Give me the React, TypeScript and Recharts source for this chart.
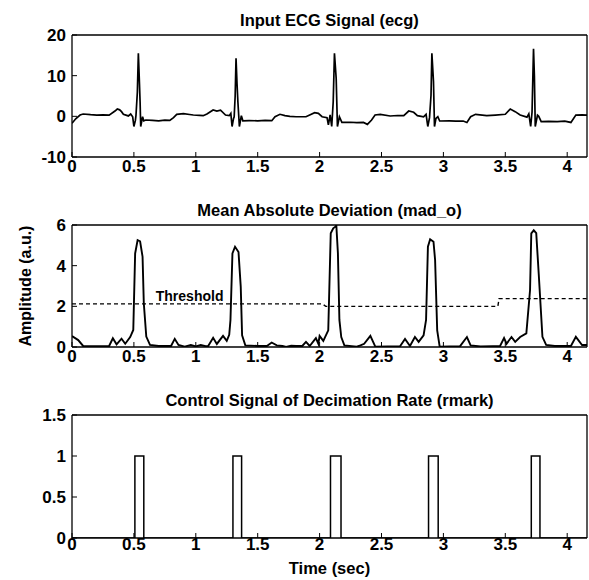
import React from 'react'
import { LineChart, Line, XAxis, YAxis, ReferenceDot } from 'recharts'

// time axis (sec)
const xMax = 4.16
const timeTicks = [0, 0.5, 1, 1.5, 2, 2.5, 3, 3.5, 4]

// Input ECG signal, [time, value]
const ecgPoints: [number, number][] = [
  [0.0, -1.7], [0.03, -0.6], [0.065, 0.33], [0.09, 0.57], [0.15, 0.4], [0.2, 0.3], [0.25, 0.35], [0.3, 0.3],
  [0.347, 1.3], [0.366, 1.8], [0.385, 1.6], [0.4, 1.15], [0.415, 0.5], [0.455, 0.1], [0.474, 0.57], [0.49, -0.1],
  [0.5, -2.5], [0.512, -1.0], [0.517, 0.3], [0.528, 6], [0.536, 15.5], [0.545, 8], [0.55, 3.6], [0.555, -2.5],
  [0.57, -0.1], [0.58, -1.1], [0.596, -0.9], [0.65, -1.0], [0.7, -1.1], [0.75, -0.95], [0.79, -1.0], [0.82, -0.3],
  [0.846, 0.5], [0.9, 0.67], [0.95, 0.45], [0.98, 0.33], [1.03, 0.25], [1.06, 0.16], [1.09, 0.57], [1.14, 1.56],
  [1.17, 1.3], [1.2, 1.5], [1.24, 0.33], [1.27, 0.16], [1.283, 0.74], [1.293, -2.5], [1.305, -0.5], [1.31, -0.1],
  [1.318, 5], [1.325, 14.3], [1.333, 8], [1.34, 3.6], [1.352, -2.5], [1.368, 0.16], [1.38, -1.1], [1.43, -1.05],
  [1.5, -1.1], [1.56, -1.0], [1.614, -1.07], [1.64, -0.1], [1.68, 0.5], [1.72, 0.16], [1.76, 0.0], [1.81, -0.1],
  [1.89, -0.1], [1.92, 0.33], [1.96, 0.9], [1.99, 0.74], [2.02, -0.1], [2.06, -0.33], [2.071, -2.1], [2.085, 0.33],
  [2.098, -2.5], [2.11, 3.6], [2.12, 15.5], [2.134, 9.3], [2.144, -2.5], [2.16, -0.1], [2.18, -1.5], [2.25, -1.45],
  [2.3, -1.55], [2.354, -1.5], [2.386, -1.97], [2.42, -0.9], [2.448, 0.33], [2.49, 0.5], [2.57, 0.08], [2.63, 0.2],
  [2.68, 0.16], [2.72, 1.3], [2.76, 1.0], [2.79, 0.16], [2.84, -0.1], [2.86, 0.5], [2.874, -2.5], [2.888, -0.33],
  [2.9, 5.2], [2.907, 15.5], [2.92, 8.5], [2.928, -2.5], [2.94, -0.5], [2.955, -0.1], [2.97, -1.15], [3.05, -1.1],
  [3.1, -1.2], [3.16, -1.15], [3.19, -1.5], [3.22, -0.1], [3.26, 0.5], [3.35, 0.16], [3.42, 0.3], [3.5, 0.5],
  [3.54, 1.8], [3.58, 1.15], [3.62, 0.33], [3.675, -0.2], [3.69, 0.6], [3.705, -2.5], [3.716, 1.0], [3.728, 16.6],
  [3.735, 10], [3.742, -2.5], [3.76, 0.3], [3.77, 0.0], [3.79, -1.3], [3.85, -1.25], [3.92, -1.3], [3.98, -1.2],
  [4.03, -1.5], [4.07, 0.3], [4.12, 0.35], [4.16, 0.3],
]

// mean absolute deviation, [time, value]
const madPoints: [number, number][] = [
  [0, 0.54], [0.05, 0.34], [0.09, 0.05], [0.2, 0.04], [0.3, 0.05], [0.33, 0.43], [0.36, 0.13], [0.4, 0.41],
  [0.43, 0.16], [0.47, 0.49], [0.495, 0.84], [0.51, 4.6], [0.53, 5.26], [0.55, 5.2], [0.57, 4.44], [0.58, 2.15],
  [0.6, 0.51], [0.63, 0.1], [0.7, 0.05], [0.8, 0.05], [0.83, 0.4], [0.86, 0.1], [0.91, 0.02], [0.96, 0.1],
  [1.0, 0.03], [1.04, 0.1], [1.08, 0.04], [1.1, 0.05], [1.14, 0.45], [1.17, 0.15], [1.22, 0.55], [1.25, 0.3],
  [1.27, 0.6], [1.28, 1.33], [1.296, 4.6], [1.317, 4.93], [1.345, 4.67], [1.363, 2.97], [1.374, 0.57], [1.4, 0.08],
  [1.5, 0.05], [1.574, 0.05], [1.613, 0.22], [1.654, 0.08], [1.7, 0.05], [1.73, 0.0], [1.77, 0.06], [1.81, 0.05],
  [1.86, 0.05], [1.89, 0.25], [1.92, 0.05], [1.97, 0.44], [1.99, 0.16], [2.0, 0.55], [2.03, 0.3], [2.07, 0.82],
  [2.09, 5.59], [2.11, 5.84], [2.13, 5.93], [2.135, 6.0], [2.148, 4.6], [2.16, 1.33], [2.175, 0.49], [2.2, 0.08],
  [2.3, 0.02], [2.33, 0.08], [2.36, 0.16], [2.41, 0.55], [2.45, 0.02], [2.55, 0.03], [2.65, 0.04], [2.69, 0.4],
  [2.73, 0.05], [2.77, 0.49], [2.8, 0.25], [2.84, 0.57], [2.86, 1.33], [2.875, 4.93], [2.893, 5.3], [2.92, 5.18],
  [2.933, 4.28], [2.95, 0.82], [2.97, 0.02], [3.05, 0.03], [3.135, 0.04], [3.19, 0.49], [3.22, 0.08], [3.3, 0.03],
  [3.4, 0.04], [3.457, 0.04], [3.49, 0.44], [3.51, 0.16], [3.55, 0.49], [3.58, 0.25], [3.62, 0.49], [3.67, 0.67],
  [3.7, 2.8], [3.71, 5.59], [3.73, 5.74], [3.75, 5.6], [3.77, 3.6], [3.8, 0.5], [3.83, 0.1], [3.9, 0.05],
  [4.03, 0.05], [4.07, 0.5], [4.12, 0.1], [4.16, 0.1],
]

// adaptive threshold
const thresholdPoints: [number, number][] = [
  [0, 2.12], [2.02, 2.12], [2.05, 2.0], [3.44, 2.0], [3.45, 2.38], [4.16, 2.38],
]

// rmark pulses (start / end times)
const pulseOn = [0.508, 1.3, 2.088, 2.88, 3.71]
const pulseOff = [0.58, 1.37, 2.173, 2.958, 3.78]

const toRows = (pts: [number, number][]) => pts.map(([t, v]) => ({ t, v }))

const rmarkRows = (() => {
  const rows: { t: number; v: number }[] = [{ t: 0, v: 0 }]
  pulseOn.forEach((on, i) => {
    rows.push({ t: on, v: 0 }, { t: on, v: 1 }, { t: pulseOff[i], v: 1 }, { t: pulseOff[i], v: 0 })
  })
  rows.push({ t: xMax, v: 0 })
  return rows
})()

const FONT = "'Liberation Sans', Arial, Helvetica, sans-serif"
const tickStyle = { fill: '#000', fontSize: 17, fontWeight: 'bold' as const, fontFamily: FONT }
const labelStyle = { fill: '#000', fontSize: 16.5, fontWeight: 'bold' as const, fontFamily: FONT }
const fmt = (v: number) => String(v)
const frame = { stroke: '#000', strokeWidth: 1.3 }

interface PanelProps {
  top: number
  height: number
  xAxisHeight: number
  xTickMargin: number
  title: string
  yDomain: [number, number]
  yTicks: number[]
  yLabel?: string
  xLabel?: string
  children: React.ReactNode
}

function Panel({ top, height, xAxisHeight, xTickMargin, title, yDomain, yTicks, yLabel, xLabel, children }: PanelProps) {
  return (
    <div style={{ position: 'absolute', left: 0, top }}>
      <LineChart width={589} height={height} margin={{ top: 34, right: 1, bottom: 0, left: 0 }}>
        <XAxis
          dataKey="t"
          type="number"
          domain={[0, xMax]}
          ticks={timeTicks}
          interval={0}
          allowDataOverflow
          height={xAxisHeight}
          tickSize={-5}
          tickMargin={xTickMargin}
          tickFormatter={fmt}
          tick={tickStyle}
          axisLine={frame}
          tickLine={{ stroke: '#000' }}
          label={xLabel ? { value: xLabel, position: 'insideBottom', offset: 6, style: labelStyle } : undefined}
        />
        <XAxis
          xAxisId="top"
          orientation="top"
          dataKey="t"
          type="number"
          domain={[0, xMax]}
          ticks={timeTicks}
          interval={0}
          allowDataOverflow
          height={1}
          tickSize={-5}
          tick={false}
          axisLine={frame}
          tickLine={{ stroke: '#000' }}
          label={{ value: title, position: 'top', offset: 8, style: labelStyle }}
        />
        <YAxis
          type="number"
          domain={yDomain}
          ticks={yTicks}
          interval={0}
          allowDataOverflow
          width={72}
          tickSize={-5}
          tickMargin={11}
          tickFormatter={fmt}
          tick={tickStyle}
          axisLine={frame}
          tickLine={{ stroke: '#000' }}
          label={
            yLabel
              ? { value: yLabel, angle: -90, position: 'insideLeft', offset: 25, style: { ...labelStyle, fontSize: 16, textAnchor: 'middle' } }
              : undefined
          }
        />
        <YAxis
          yAxisId="right"
          orientation="right"
          type="number"
          domain={yDomain}
          ticks={yTicks}
          interval={0}
          allowDataOverflow
          width={1}
          tickSize={-5}
          tick={false}
          axisLine={frame}
          tickLine={{ stroke: '#000' }}
        />
        {children}
      </LineChart>
    </div>
  )
}

export default function App() {
  return (
    <div style={{ position: 'absolute', left: 0, top: 0, width: 589, height: 580, background: '#fff' }}>
      <Panel top={0} height={190} xAxisHeight={33} xTickMargin={8} title="Input ECG Signal (ecg)" yDomain={[-10, 20]} yTicks={[-10, 0, 10, 20]}>
        <Line data={toRows(ecgPoints)} dataKey="v" type="linear" stroke="#000" strokeWidth={1.7} dot={false} isAnimationActive={false} />
        <Line data={toRows(ecgPoints)} xAxisId="top" yAxisId="right" dataKey="v" stroke="none" dot={false} isAnimationActive={false} />
      </Panel>
      <Panel
        top={190}
        height={190}
        xAxisHeight={33}
        xTickMargin={8}
        title="Mean Absolute Deviation (mad_o)"
        yDomain={[0, 6]}
        yTicks={[0, 2, 4, 6]}
        yLabel="Amplitude (a.u.)"
      >
        <Line data={toRows(madPoints)} dataKey="v" type="linear" stroke="#000" strokeWidth={1.9} dot={false} isAnimationActive={false} />
        <Line
          data={toRows(thresholdPoints)}
          dataKey="v"
          type="linear"
          stroke="#000"
          strokeWidth={1.4}
          strokeDasharray="4 3"
          dot={false}
          isAnimationActive={false}
        />
        <Line data={toRows(madPoints)} xAxisId="top" yAxisId="right" dataKey="v" stroke="none" dot={false} isAnimationActive={false} />
        <ReferenceDot x={0.95} y={2.53} r={0} fill="none" stroke="none" label={{ value: 'Threshold', position: 'center', style: { ...labelStyle, fontSize: 14 } }} />
      </Panel>
      <Panel
        top={380}
        height={200}
        xAxisHeight={42}
        xTickMargin={5}
        title="Control Signal of Decimation Rate (rmark)"
        yDomain={[0, 1.5]}
        yTicks={[0, 0.5, 1, 1.5]}
        xLabel="Time (sec)"
      >
        <Line data={rmarkRows} dataKey="v" type="linear" stroke="#000" strokeWidth={1.5} dot={false} isAnimationActive={false} />
        <Line data={rmarkRows} xAxisId="top" yAxisId="right" dataKey="v" stroke="none" dot={false} isAnimationActive={false} />
      </Panel>
    </div>
  )
}
